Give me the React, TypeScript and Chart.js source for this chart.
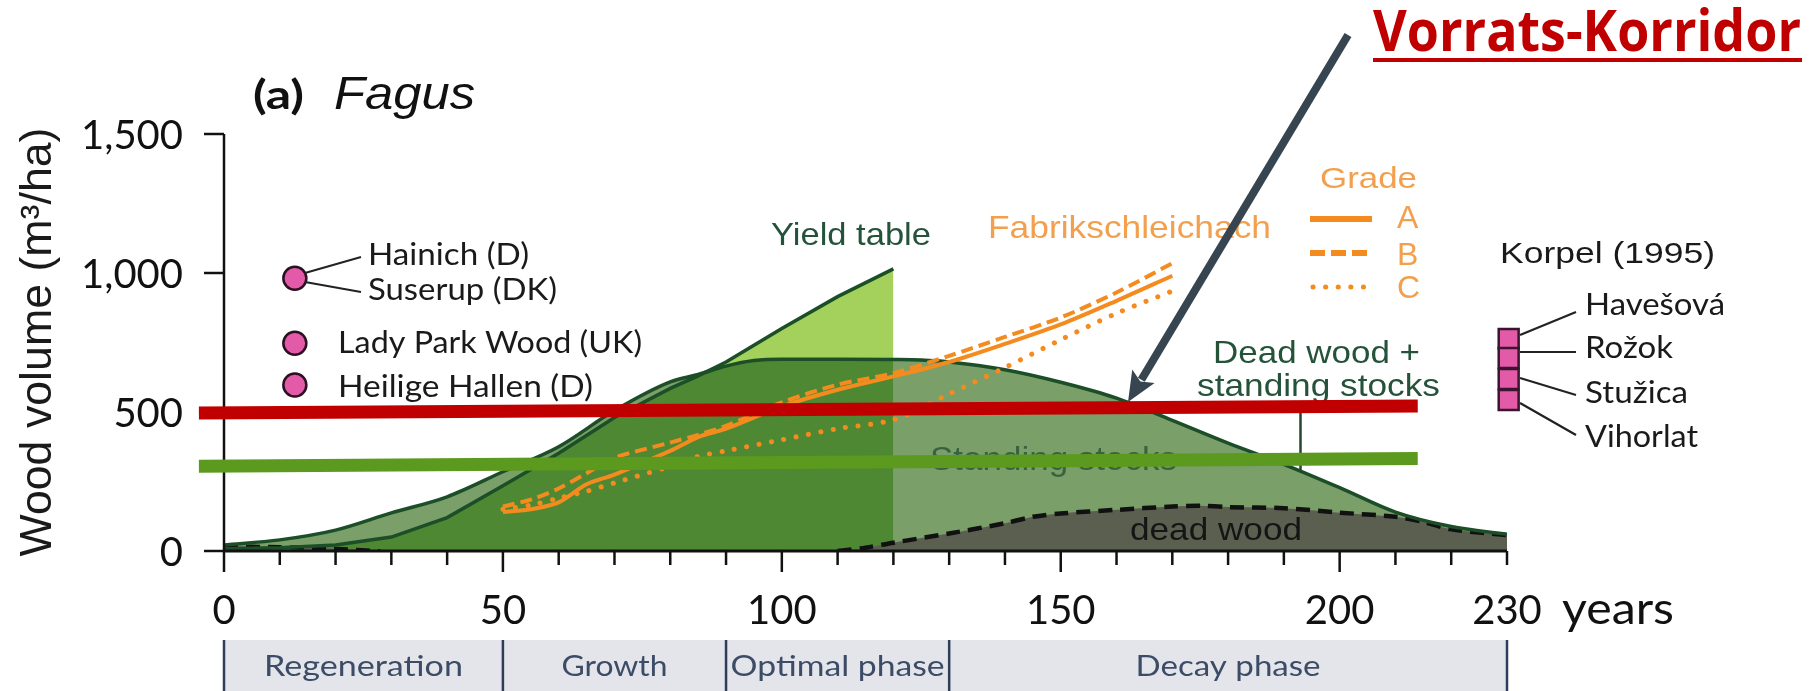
import { useEffect, useRef } from 'react';
import { Chart, registerables } from 'chart.js';

Chart.register(...registerables);

// Stand age (years) shared by the standing-stock and yield-table curves
const ageYears = [0, 10, 20, 30, 40, 50, 60, 70, 80, 85, 90, 95, 100, 110, 120, 125, 130, 140, 150, 160, 170, 180, 190, 200, 210, 220, 230];
// Standing stocks of the natural forest (m³/ha)
const standingStocks = [22, 40, 75, 137, 195, 285, 375, 505, 608, 635, 665, 685, 690, 690, 689, 687, 680, 652, 607, 550, 470, 388, 312, 228, 140, 88, 60];
// Yield table, defined for the first ages up to 120 years
const yieldTable = [8, 12, 22, 50, 120, 235, 352, 480, 585, 630, 680, 740, 800, 915, 1015];

// Dead wood
const deadWoodEarlyYears = [0, 10, 20, 28];
const deadWoodEarly = [18, 14, 8, 0];
const deadWoodYears = [110, 115, 120, 130, 140, 145, 150, 160, 170, 175, 180, 190, 200, 210, 215, 220, 230];
const deadWood = [0, 12, 30, 63, 100, 123, 135, 148, 160, 163, 158, 154, 138, 123, 105, 78, 57];

// Fabrikschleichach, site grades A, B, C
const gradeYears = [50, 55, 60, 65, 70, 80, 85, 90, 100, 110, 120, 130, 140, 150, 160, 170];
const gradeA = [140, 150, 175, 240, 275, 360, 410, 440, 520, 580, 628, 680, 745, 815, 900, 990];
const gradeB = [160, 185, 225, 280, 335, 390, 418, 450, 535, 598, 640, 702, 770, 840, 930, 1035];
const gradeC = [150, 165, 190, 215, 245, 305, 340, 360, 400, 440, 472, 565, 660, 760, 855, 935];

// Reference reserves (circles) and Korpel (1995) reserves (squares)
const siteAge = 12.7;
const siteVolumes = [981, 747, 597];
const korpelAge = 230.3;
const korpelVolumes = [763, 694, 619, 543];
const korpelNames = ['Havešová', 'Rožok', 'Stužica', 'Vihorlat'];

// Stock corridor bands
const corridorX = [-4.5, 214];
const corridorUpper = [496, 522];
const corridorLower = [305, 333];

// Axis ticks and development phases
const yTicks = [0, 500, 1000, 1500];
const xLabels = [0, 50, 100, 150, 200, 230];
const phaseBounds = [0, 50, 90, 130, 230];
const phaseNames = ['Regeneration', 'Growth', 'Optimal phase', 'Decay phase'];
const phaseLabelWidths = [199, 106, 214, 185];

const pts = (xs: number[], ys: number[]) => ys.map((y, i) => ({ x: xs[i], y }));

const ORANGE = '#f48b1f';
const ORANGE_TEXT = '#f2a04e';
const LINE_GREEN = '#1c4e28';
const LABEL_GREEN = '#24533a';

function drawText(
  ctx: CanvasRenderingContext2D,
  text: string,
  x: number,
  y: number,
  font: string,
  color: string,
  align: 'left' | 'center' | 'right',
  width?: number
) {
  ctx.save();
  ctx.font = font;
  ctx.fillStyle = color;
  ctx.textBaseline = 'alphabetic';
  ctx.textAlign = 'left';
  const w = ctx.measureText(text).width;
  const s = width ? width / w : 1;
  const dw = w * s;
  const left = align === 'left' ? x : align === 'center' ? x - dw / 2 : x - dw;
  ctx.translate(left, y);
  ctx.scale(s, 1);
  ctx.fillText(text, 0, 0);
  ctx.restore();
}

function line(ctx: CanvasRenderingContext2D, x1: number, y1: number, x2: number, y2: number, color: string, width: number) {
  ctx.save();
  ctx.strokeStyle = color;
  ctx.lineWidth = width;
  ctx.beginPath();
  ctx.moveTo(x1, y1);
  ctx.lineTo(x2, y2);
  ctx.stroke();
  ctx.restore();
}

let figureLayerIndex = -1;

const figurePlugin = {
  id: 'figureLayer',
  beforeDatasetDraw(chart: any, args: any) {
    if (args.index !== figureLayerIndex) return;
    const ctx: CanvasRenderingContext2D = chart.ctx;
    const X = (v: number) => chart.scales.x.getPixelForValue(v);
    const Y = (v: number) => chart.scales.y.getPixelForValue(v);
    const ink = '#111111';

    // Axes and tick marks
    line(ctx, X(0), Y(1500), X(0), Y(0), ink, 2.5);
    yTicks.forEach((v) => line(ctx, X(0) - 20, Y(v), X(0), Y(v), ink, 2.5));
    line(ctx, X(0) - 1, Y(0), X(230), Y(0), ink, 3);
    for (let v = 0; v <= 230; v += 10) {
      const len = v % 50 === 0 && v <= 200 ? 21 : 14;
      line(ctx, X(v), Y(0), X(v), Y(0) + len, ink, 2.5);
    }

    // Tick labels
    yTicks.forEach((v) =>
      drawText(ctx, v.toLocaleString('en-US'), X(0) - 41, Y(v) + 14.5, '40px Lato', ink, 'right')
    );
    xLabels.forEach((v) => drawText(ctx, String(v), X(v), 624, '40px Lato', ink, 'center'));
    drawText(ctx, 'years', 1562, 624, '44px Lato', ink, 'left', 112);

    // Axis title
    ctx.save();
    ctx.translate(51, 342);
    ctx.rotate(-Math.PI / 2);
    drawText(ctx, 'Wood volume (m³/ha)', 0, 0, '44px "Liberation Sans"', '#1a1a1a', 'center', 429);
    ctx.restore();

    // Panel title
    drawText(ctx, '(a)', 253, 109, 'bold 40px Lato', ink, 'left', 51);
    drawText(ctx, 'Fagus', 334, 109, 'italic 47px "Liberation Sans"', ink, 'left', 141);

    // Development phase bar
    ctx.save();
    ctx.fillStyle = '#e3e5eb';
    ctx.fillRect(X(0), 640, X(230) - X(0), 51);
    ctx.restore();
    phaseBounds.forEach((b) => line(ctx, X(b), 640, X(b), 691, '#2e3d5a', 2.5));
    phaseNames.forEach((name, i) => {
      const cx = (X(phaseBounds[i]) + X(phaseBounds[i + 1])) / 2;
      drawText(ctx, name, cx, 676, '29px Lato', '#3d4c66', 'center', phaseLabelWidths[i]);
    });

    // Reference reserves
    line(ctx, 305, 273, 361, 257, '#222', 2);
    line(ctx, 305, 282, 361, 292, '#222', 2);
    drawText(ctx, 'Hainich (D)', 368, 265, '30px Lato', '#1a1a1a', 'left', 161);
    drawText(ctx, 'Suserup (DK)', 368, 300, '30px Lato', '#1a1a1a', 'left', 189);
    drawText(ctx, 'Lady Park Wood (UK)', 338, 353, '30px Lato', '#1a1a1a', 'left', 304);
    drawText(ctx, 'Heilige Hallen (D)', 338, 397, '30px Lato', '#1a1a1a', 'left', 255);

    // Korpel (1995)
    drawText(ctx, 'Korpel (1995)', 1500, 263, '30px "Liberation Sans"', '#1a1a1a', 'left', 215);
    const kEnds = [312, 352, 395, 435];
    const kStarts = [335, 352, 378, 403];
    const kBase = [315, 358, 403, 447];
    const kWidths = [140, 88, 103, 113];
    korpelNames.forEach((n, i) => {
      line(ctx, 1520, kStarts[i], 1576, kEnds[i], '#222', 2.2);
      drawText(ctx, n, 1585, kBase[i], '30px Lato', '#1a1a1a', 'left', kWidths[i]);
    });

    // Grade legend
    drawText(ctx, 'Grade', 1320, 188, '30px "Liberation Sans"', ORANGE_TEXT, 'left', 97);
    ctx.save();
    ctx.strokeStyle = ORANGE;
    ctx.lineWidth = 6;
    ctx.beginPath(); ctx.moveTo(1310, 219); ctx.lineTo(1372, 219); ctx.stroke();
    ctx.setLineDash([15, 6]);
    ctx.beginPath(); ctx.moveTo(1310, 253); ctx.lineTo(1370, 253); ctx.stroke();
    ctx.lineCap = 'round';
    ctx.lineWidth = 5;
    ctx.setLineDash([0.1, 12.5]);
    ctx.beginPath(); ctx.moveTo(1313, 287); ctx.lineTo(1372, 287); ctx.stroke();
    ctx.restore();
    drawText(ctx, 'A', 1397, 228, '32px "Liberation Sans"', ORANGE_TEXT, 'left');
    drawText(ctx, 'B', 1397, 265, '32px "Liberation Sans"', ORANGE_TEXT, 'left');
    drawText(ctx, 'C', 1397, 298, '32px "Liberation Sans"', ORANGE_TEXT, 'left');

    // Curve labels
    drawText(ctx, 'Fabrikschleichach', 988, 238, '32px "Liberation Sans"', ORANGE_TEXT, 'left', 283);
    drawText(ctx, 'Yield table', 771, 245, '32px "Liberation Sans"', LABEL_GREEN, 'left', 160);
    drawText(ctx, 'Dead wood +', 1213, 363, '32px "Liberation Sans"', LABEL_GREEN, 'left', 207);
    drawText(ctx, 'standing stocks', 1197, 396, '32px "Liberation Sans"', LABEL_GREEN, 'left', 243);
    line(ctx, 1300.5, 413, 1300.5, 470, '#25472f', 2.5);
    drawText(ctx, 'Standing stocks', 930, 470, '33px "Liberation Sans"', '#386340', 'left', 247);
    drawText(ctx, 'dead wood', 1130, 540, '32px "Liberation Sans"', '#151515', 'left', 172);
  },
  afterDraw(chart: any) {
    const ctx: CanvasRenderingContext2D = chart.ctx;
    // Arrow pointing at the corridor
    const x1 = 1348, y1 = 35, tx = 1128, ty = 402;
    const dx = tx - x1, dy = ty - y1;
    const len = Math.hypot(dx, dy);
    const ux = dx / len, uy = dy / len;
    const head = 30, half = 13;
    const bx = tx - ux * head, by = ty - uy * head;
    ctx.save();
    ctx.strokeStyle = '#36454f';
    ctx.fillStyle = '#36454f';
    ctx.lineWidth = 8;
    ctx.beginPath();
    ctx.moveTo(x1, y1);
    ctx.lineTo(bx + ux * 4, by + uy * 4);
    ctx.stroke();
    ctx.beginPath();
    ctx.moveTo(tx, ty);
    ctx.lineTo(bx - uy * half, by + ux * half);
    ctx.lineTo(bx + ux * 6, by + uy * 6);
    ctx.lineTo(bx + uy * half, by - ux * half);
    ctx.closePath();
    ctx.fill();
    ctx.restore();

    drawText(ctx, 'Vorrats-Korridor', 1373, 51, 'bold 57px "Open Sans"', '#c00000', 'left', 428);
    ctx.save();
    ctx.fillStyle = '#c00000';
    ctx.fillRect(1373, 58, 429, 4);
    ctx.restore();
  },
};

export default function App() {
  const ref = useRef<HTMLCanvasElement>(null);

  useEffect(() => {
    let chart: Chart | null = null;
    let cancelled = false;
    const fonts = ['40px Lato', 'bold 40px Lato', '32px "Liberation Sans"', 'italic 47px "Liberation Sans"', 'bold 57px "Open Sans"'];

    const overlap = yieldTable.map((v, i) => Math.min(v, standingStocks[i]));
    const yieldAges = ageYears.slice(0, yieldTable.length);

    const area = (data: any[], color: string, order: number, extra: any = {}) => ({
      data,
      fill: 'origin',
      backgroundColor: color,
      borderColor: 'transparent',
      borderWidth: 0,
      pointRadius: 0,
      order,
      ...extra,
    });
    const curve = (data: any[], color: string, width: number, order: number, extra: any = {}) => ({
      data,
      fill: false,
      borderColor: color,
      borderWidth: width,
      pointRadius: 0,
      order,
      ...extra,
    });

    const datasets: any[] = [
      area(pts(ageYears, standingStocks), '#7b9f69', 20, { cubicInterpolationMode: 'monotone' }),
      area(pts(yieldAges, yieldTable), '#a3d15b', 19),
      area(pts(yieldAges, overlap), '#4f8833', 18),
      area(pts(deadWoodEarlyYears, deadWoodEarly), '#5a5f50', 17, {
        borderColor: '#111', borderWidth: 4, borderDash: [14, 8], tension: 0.3,
      }),
      area(pts(deadWoodYears, deadWood), '#5a5f50', 16, {
        borderColor: '#111', borderWidth: 4.5, borderDash: [14, 8], tension: 0.3,
      }),
      curve(pts(yieldAges, yieldTable), LINE_GREEN, 3.5, 15),
      curve(pts(ageYears, standingStocks), LINE_GREEN, 3.5, 14, { cubicInterpolationMode: 'monotone' }),
      curve(pts(gradeYears, gradeC), ORANGE, 5, 13, { borderDash: [0.1, 12.5], borderCapStyle: 'round', tension: 0.3 }),
      curve(pts(gradeYears, gradeB), ORANGE, 4, 12, { borderDash: [12, 6], tension: 0.3 }),
      curve(pts(gradeYears, gradeA), ORANGE, 4, 11, { tension: 0.3 }),
      {
        type: 'bubble',
        data: siteVolumes.map((y) => ({ x: siteAge, y })),
        pointStyle: 'circle',
        radius: 11.5,
        backgroundColor: '#e25aa8',
        borderColor: '#2a1020',
        borderWidth: 2.5,
        order: 10,
        clip: false,
      },
      {
        type: 'bubble',
        data: korpelVolumes.map((y) => ({ x: korpelAge, y })),
        pointStyle: 'rect',
        radius: 14.1,
        backgroundColor: '#e25aa8',
        borderColor: '#3a1530',
        borderWidth: 2.5,
        order: 9,
        clip: false,
      },
      curve(pts(corridorX, corridorLower), '#5b9a1e', 13, 2, { clip: false, borderCapStyle: 'butt' }),
      curve(pts(corridorX, corridorUpper), '#c00000', 13, 1, { clip: false, borderCapStyle: 'butt' }),
    ];
    figureLayerIndex = datasets.length - 2;

    Promise.all(fonts.map((f) => document.fonts.load(f).catch(() => null))).then(() => {
      if (cancelled || !ref.current) return;
      chart = new Chart(ref.current, {
        type: 'line',
        data: { datasets },
        options: {
          animation: false,
          responsive: false,
          devicePixelRatio: 1,
          events: [],
          layout: { padding: { left: 224, right: 310, top: 134, bottom: 140 } },
          scales: {
            x: { type: 'linear', min: 0, max: 230, display: false },
            y: { type: 'linear', min: 0, max: 1500, display: false },
          },
          plugins: {
            legend: { display: false },
            tooltip: { enabled: false },
            filler: { drawTime: 'beforeDatasetDraw' },
          },
        } as any,
        plugins: [figurePlugin],
      });
    });

    return () => {
      cancelled = true;
      if (chart) chart.destroy();
    };
  }, []);

  return (
    <div style={{ position: 'absolute', left: 0, top: 0, width: 1817, height: 691, background: '#ffffff' }}>
      <canvas ref={ref} width={1817} height={691} style={{ display: 'block', width: 1817, height: 691 }} />
    </div>
  );
}
